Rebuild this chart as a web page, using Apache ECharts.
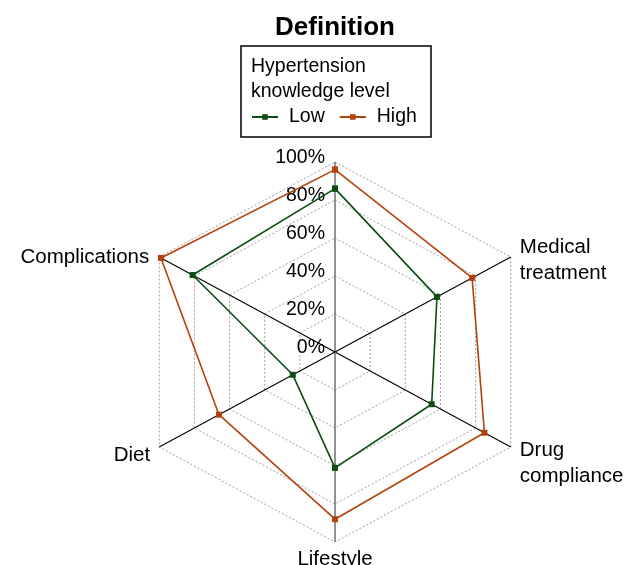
<!DOCTYPE html>
<html>
<head>
<meta charset="utf-8">
<script src="https://cdn.jsdelivr.net/npm/echarts@6/dist/echarts.min.js"></script>
<style>html,body{margin:0;padding:0;background:#fff;}#c{width:639px;height:565px;}</style>
</head>
<body>
<div id="c"></div>
<script>
// ---- data ----
const categories = ['Definition', 'Medical treatment', 'Drug compliance', 'Lifestyle', 'Diet', 'Complications'];
const categoryLabels = ['Definition', 'Medical\ntreatment', 'Drug\ncompliance', 'Lifestyle', 'Diet', 'Complications'];
const lowValues = [86, 58, 55, 61, 24, 81];
const highValues = [96, 78, 85, 88, 66, 99];
const tickValues = [0, 20, 40, 60, 80, 100];
const tickLabels = ['0%', '20%', '40%', '60%', '80%', '100%'];
const seriesNames = ['Low', 'High'];
const legendTitle = 'Hypertension\nknowledge level';

// ---- helpers ----
const angles = [90, 30, -30, -90, -150, 150];
function pt(v, i) {
  const a = angles[i] * Math.PI / 180;
  return [v / 100 * Math.cos(a), v / 100 * Math.sin(a)];
}
function polygon(vals) {
  const d = vals.map((v, i) => pt(v, i));
  d.push(d[0]);
  return d;
}
const FONT = 'Liberation Sans, Arial, sans-serif';
const series = [];

// grid rings
tickValues.filter(t => t > 0).forEach(t => {
  series.push({
    type: 'line', data: polygon(categories.map(() => t)), symbol: 'none', silent: true,
    lineStyle: { type: [2, 2], color: '#a0a0a0', width: 1 }, z: 1, clip: false, animation: false
  });
});
// spokes
categories.forEach((c, i) => {
  const vertical = angles[i] === 90 || angles[i] === -90;
  series.push({
    type: 'line', data: [[0, 0], pt(100, i)], symbol: 'none', silent: true,
    lineStyle: { color: vertical ? '#777' : '#000', width: vertical ? 1.6 : 1.1 }, z: 2, clip: false, animation: false
  });
});
const baseLabel = { show: true, color: '#000', opacity: 1, textBorderWidth: 0, fontFamily: FONT };
// tick labels
series.push({
  type: 'scatter', symbolSize: 0, silent: true, clip: false, animation: false,
  itemStyle: { opacity: 1 },
  data: tickValues.map((t, k) => ({ value: [0, t / 100], name: tickLabels[k] })),
  label: Object.assign({}, baseLabel, { position: 'left', distance: 10, offset: [0, -4], formatter: p => p.name, fontSize: 19.5 }),
  z: 3
});
// category labels (except top, which is the title)
const labelPos = [null,
  { position: 'right', distance: 9, offset: [0, 3] },
  { position: 'right', distance: 9, offset: [0, 16] },
  { position: 'bottom', distance: 4, offset: [0, 0] },
  { position: 'left', distance: 9, offset: [0, 8] },
  { position: 'left', distance: 10, offset: [0, 0] }];
series.push({
  type: 'scatter', symbolSize: 0, silent: true, clip: false, animation: false,
  data: categories.map((c, i) => i === 0 ? null : ({
    value: pt(100, i), name: categoryLabels[i],
    label: Object.assign({}, baseLabel, labelPos[i])
  })).filter(Boolean),
  label: Object.assign({}, baseLabel, { formatter: p => p.name, fontSize: 20.5, lineHeight: 26 }),
  z: 3
});
// data series
const colors = ['#0d4d12', '#b3420c'];
[lowValues, highValues].forEach((vals, k) => {
  series.push({
    name: seriesNames[k], type: 'line', data: polygon(vals), symbol: 'rect', symbolSize: 6,
    itemStyle: { color: colors[k] }, lineStyle: { color: colors[k], width: 1.6 }, z: 5, clip: false, animation: false
  });
});

const chart = echarts.init(document.getElementById('c'), null, { renderer: 'canvas' });
chart.setOption({
  backgroundColor: '#fff',
  animation: false,
  title: { text: categories[0], left: 330, textAlign: 'center', top: 10,
    textStyle: { fontSize: 26, fontWeight: 'bold', color: '#000', fontFamily: FONT } },
  grid: { left: 132, top: 162, width: 406, height: 380 },
  xAxis: { type: 'value', min: -1, max: 1, show: false },
  yAxis: { type: 'value', min: -1, max: 1, show: false },
  legend: {
    data: seriesNames, left: 251, top: 107, padding: 0, itemWidth: 26, itemHeight: 7, itemGap: 14,
    textStyle: { fontSize: 19.5, color: '#000', fontFamily: FONT, padding: [0, 0, 0, 6] }
  },
  graphic: [
    { type: 'rect', shape: { x: 241, y: 46, width: 190, height: 91 },
      style: { fill: 'none', stroke: '#000', lineWidth: 1.5 }, z: 10 },
    { type: 'text', x: 251, y: 54, style: { text: legendTitle, fontSize: 19.5, lineHeight: 25,
      fontFamily: FONT, fill: '#000' }, z: 10 }
  ],
  series: series
});
</script>
</body>
</html>
